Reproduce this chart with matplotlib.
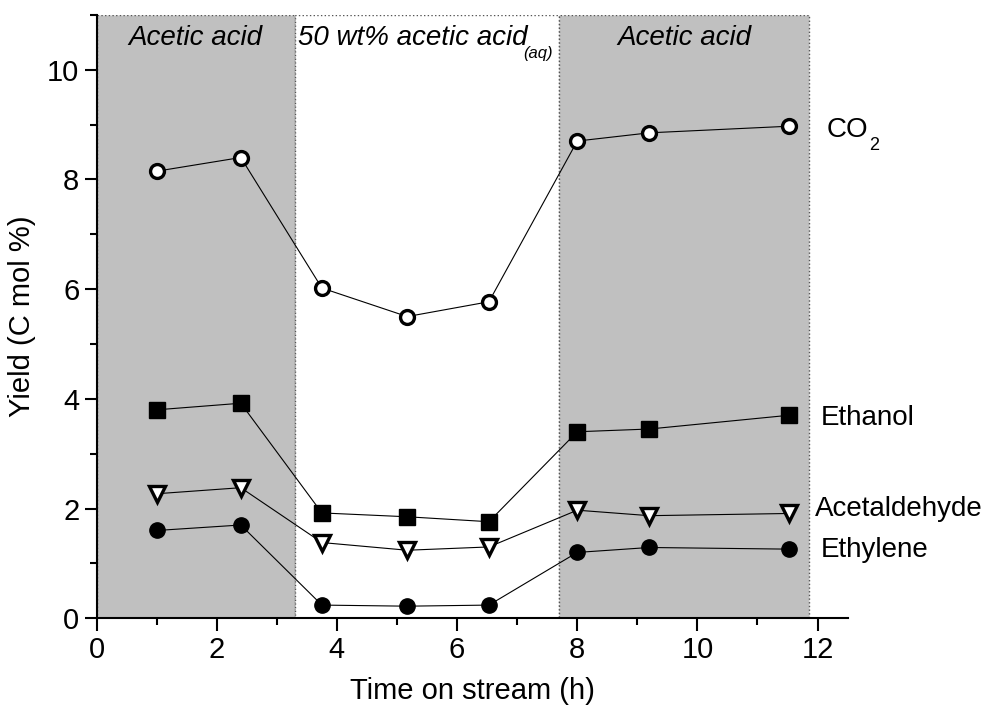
import matplotlib.pyplot as plt
from matplotlib.ticker import MultipleLocator

plt.rcParams['font.family'] = ['Liberation Sans', 'DejaVu Sans']

time_h = [1.0, 2.4, 3.75, 5.17, 6.53, 8.0, 9.2, 11.52]
co2 = [8.15, 8.4, 6.02, 5.5, 5.77, 8.7, 8.85, 8.97]
ethanol = [3.8, 3.92, 1.92, 1.85, 1.76, 3.4, 3.45, 3.7]
acetaldehyde = [2.27, 2.38, 1.38, 1.24, 1.3, 1.97, 1.87, 1.91]
ethylene = [1.6, 1.7, 0.24, 0.22, 0.24, 1.2, 1.29, 1.26]

phases = [(0.0, 3.3, 'Acetic acid', True),
          (3.3, 7.7, '50 wt% acetic acid', False),
          (7.7, 11.85, 'Acetic acid', True)]

fig = plt.figure(figsize=(9.96, 7.09), dpi=100)
ax = fig.add_axes([0.097, 0.128, 0.754, 0.851])
ax.set_xlim(0, 12.5)
ax.set_ylim(0, 11)

for x0, x1, label, shaded in phases:
    ax.add_patch(plt.Rectangle((x0, 0), x1 - x0, 11, facecolor='#c0c0c0' if shaded else 'white',
                               edgecolor='#555555', linestyle=':', linewidth=1, zorder=0))
    if shaded:
        ax.text((x0 + x1) / 2, 10.58, label, ha='center', va='center', fontsize=20,
                style='italic', zorder=1)
    else:
        ax.text(x0 + 0.05, 10.58, label, ha='left', va='center', fontsize=20,
                style='italic', zorder=1)
        ax.text(x1 - 0.1, 10.3, '(aq)', ha='right', va='center', fontsize=12,
                style='italic', zorder=1)

line_kw = dict(color='black', linewidth=0.8, markersize=11, zorder=3)
ax.plot(time_h, co2, marker='o', markerfacecolor='white', markeredgewidth=2.4, markersize=10,
        color='black', linewidth=0.8, zorder=3)
ax.plot(time_h, ethanol, marker='s', markerfacecolor='black', **line_kw)
ax.plot(time_h, acetaldehyde, marker='v', markerfacecolor='white', markeredgewidth=2.4,
        color='black', linewidth=0.8, markersize=12, zorder=3)
ax.plot(time_h, ethylene, marker='o', markerfacecolor='black', **line_kw)

labels = [('CO', 12.15, 8.9), ('Ethanol', 12.05, 3.65),
          ('Acetaldehyde', 11.95, 2.0), ('Ethylene', 12.05, 1.25)]
for name, lx, ly in labels:
    ax.text(lx, ly, name, fontsize=20, va='center', ha='left', clip_on=False)
ax.text(12.86, 8.62, '2', fontsize=13, va='center', ha='left', clip_on=False)

ax.spines['top'].set_visible(False)
ax.spines['right'].set_visible(False)
ax.spines['left'].set_linewidth(1.5)
ax.spines['bottom'].set_linewidth(1.5)
ax.xaxis.set_major_locator(MultipleLocator(2))
ax.xaxis.set_minor_locator(MultipleLocator(1))
ax.yaxis.set_major_locator(MultipleLocator(2))
ax.yaxis.set_minor_locator(MultipleLocator(1))
ax.tick_params(which='major', direction='out', length=9, width=1.5, labelsize=21)
ax.tick_params(which='minor', direction='out', length=5, width=1.5)
ax.set_xlabel('Time on stream (h)', fontsize=21, labelpad=10)
ax.set_ylabel('Yield (C mol %)', fontsize=21, labelpad=8)

fig.savefig('out.png', dpi=100)
